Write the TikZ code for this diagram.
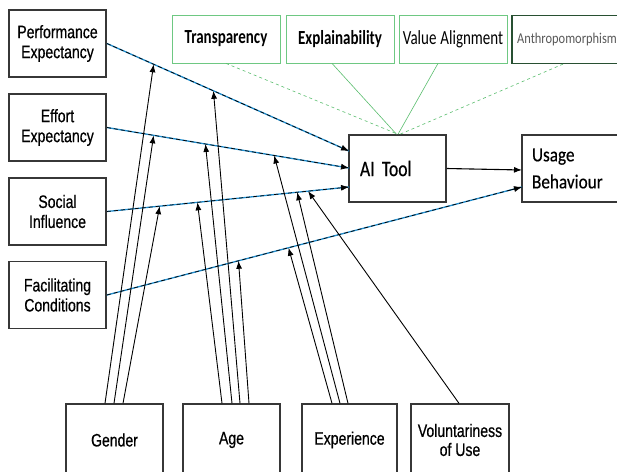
\documentclass[tikz,border=0pt]{standalone}
\usepackage{fontspec}
\setmainfont{Liberation Sans}
\newfontfamily\lfont[FakeStretch=0.78,FakeBold=0.6]{Liberation Sans}
\newfontfamily\topfont[FakeStretch=0.75]{Carlito}
\newfontfamily\anfont[FakeStretch=0.83]{Carlito}
\newfontfamily\aifont[FakeStretch=0.8,FakeBold=0.5]{Carlito}
\newfontfamily\ubfont[FakeStretch=0.86,FakeBold=0.4]{Carlito}
\newcommand\tightspace[1]{\spaceskip=#1\relax}
\usetikzlibrary{arrows.meta,calc}
\definecolor{lineblue}{RGB}{30,140,205}
\definecolor{boxgreen}{RGB}{110,200,130}
\definecolor{lgreen}{RGB}{90,190,110}
\definecolor{edgegray}{RGB}{55,55,55}
\definecolor{darkgreenedge}{RGB}{40,80,50}
\begin{document}
\begin{tikzpicture}[x=1pt,y=-1pt,
 lbox/.style={draw=edgegray,line width=1.8pt,minimum width=97,minimum height=67,align=center,font=\lfont\fontsize{18}{20}\selectfont,inner sep=2pt},
 bbox/.style={draw=edgegray,line width=1.3pt,minimum width=97,minimum height=72,align=center,font=\lfont\fontsize{18}{19}\selectfont,inner sep=2pt},
 gbox/.style={draw=boxgreen,line width=0.8pt,minimum width=108,minimum height=48,font=\topfont\fontsize{20}{22}\selectfont\tightspace{4pt},inner sep=1pt},
 mbox/.style={draw=edgegray,line width=1.5pt,minimum height=67,align=left},
 blueline/.style={draw=lineblue,line width=1.3pt},
 blackdash/.style={draw=black,line width=0.7pt,dash pattern=on 4pt off 3pt},
 tip/.style={-{Latex[length=8pt,width=6pt]}},
 modarrow/.style={draw=black,line width=0.9pt,-{Latex[length=8pt,width=6pt]}},
 greenline/.style={draw=lgreen,line width=0.6pt}
]
\clip (0,0) rectangle (617,471);
\fill[white] (0,0) rectangle (617,471);

% left boxes
\node[lbox] (pe) at (57.5,43.5) {Performance\\Expectancy};
\node[lbox] (ee) at (57.5,127.5) {Effort\\Expectancy};
\node[lbox] (si) at (57.5,211.5) {Social\\Influence};
\node[lbox] (fc) at (57.5,295) {Facilitating\\Conditions};

% top boxes
\node[gbox] (tr) at (226,39) {\bfseries Transparency};
\node[gbox] (ex) at (340,39) {\bfseries Explainability};
\node[gbox] (va) at (453,39) {Value Alignment};
\node[gbox,draw=darkgreenedge,line width=1.2pt,minimum width=110,text=black!65,font=\anfont\fontsize{15}{17}\selectfont] (an) at (567,39.5) {Anthropomorphism};

% main boxes
\node[mbox,minimum width=97,text width=75,inner sep=11pt,font=\aifont\fontsize{22}{26}\selectfont\tightspace{3pt}] (ai) at (397.5,168.5) {AI Tool};
\node[mbox,minimum width=100,text width=80,inner sep=10pt,font=\ubfont\fontsize{20}{27}\selectfont] (ub) at (572,168.5) {Usage\\Behaviour};

% bottom boxes
\node[bbox] (ge) at (114.5,440) {Gender};
\node[bbox] (ag) at (231.5,440) {Age};
\node[bbox,minimum width=95] (xp) at (349.5,440) {Experience};
\node[bbox,minimum width=98] (vu) at (460,440) {Voluntariness\\of Use};

% end points on AI tool and usage behaviour
\coordinate (ai1) at (349,151);
\coordinate (ai2) at (349,168);
\coordinate (ai3) at (349,187);
\coordinate (ub1) at (522,187);
\coordinate (ub0) at (522,170);

% green links
\draw[greenline,dashed] (tr.south) -- ($(ai.north)+(0.5,0)$);
\draw[greenline] (ex.south) ++(-8,0) coordinate (exs) -- ($(ai.north)+(-1,0)$);
\draw[greenline] (va.south) ++(-15,0) coordinate (vas) -- ($(ai.north)+(0.5,0)$);
\draw[greenline,dashed] (an.south) ++(-4,0) coordinate (ans) -- ($(ai.north)+(2.5,0)$);

% main relations
\foreach \s/\t in {pe/ai1,ee/ai2,si/ai3,fc/ub1}{
  \draw[blueline] (\s.east) -- (\t);
  \draw[blackdash] (\s.east) -- (\t);
  \draw[line width=0.7pt,tip,shorten <=-0.1pt] ($(\s.east)!0.97!(\t)$) -- (\t);
}
\draw[line width=1.1pt,tip] (ai.east) -- (ub0);

% points on the relation lines
\coordinate (pG) at ($(pe.east)!0.193!(ai1)$);
\coordinate (pA) at ($(pe.east)!0.440!(ai1)$);
\coordinate (eG) at ($(ee.east)!0.193!(ai2)$);
\coordinate (eA) at ($(ee.east)!0.407!(ai2)$);
\coordinate (eX) at ($(ee.east)!0.691!(ai2)$);
\coordinate (sG) at ($(si.east)!0.218!(ai3)$);
\coordinate (sA) at ($(si.east)!0.374!(ai3)$);
\coordinate (sX) at ($(si.east)!0.786!(ai3)$);
\coordinate (sV) at ($(si.east)!0.831!(ai3)$);
\coordinate (fA) at ($(fc.east)!0.317!(ub1)$);
\coordinate (fX) at ($(fc.east)!0.4375!(ub1)$);

% moderators
\draw[modarrow] ($(ge.north)+(-9.5,0)$) -- (pG);
\draw[modarrow] ($(ge.north)+(-0.5,0)$) -- (eG);
\draw[modarrow] ($(ge.north)+(8.5,0)$) -- (sG);

\draw[modarrow] ($(ag.north)+(-9.5,0)$) -- (sA);
\draw[modarrow] ($(ag.north)+(0.5,0)$) -- (eA);
\draw[modarrow] ($(ag.north)+(8.5,0)$) -- (pA);
\draw[modarrow] ($(ag.north)+(17.5,0)$) -- (fA);

\draw[modarrow] ($(xp.north)+(-17.5,0)$) -- (fX);
\draw[modarrow] ($(xp.north)+(-9.5,0)$) -- (eX);
\draw[modarrow] ($(xp.north)+(-1.5,0)$) -- (sX);

\draw[modarrow] ($(vu.north)+(-1,0)$) -- (sV);
\end{tikzpicture}
\end{document}
